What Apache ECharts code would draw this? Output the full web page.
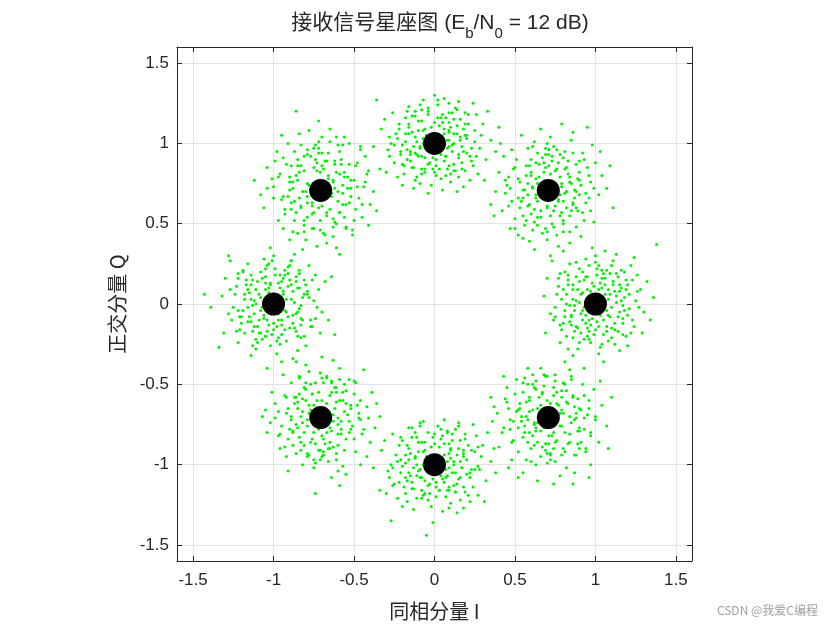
<!DOCTYPE html>
<html>
<head>
<meta charset="utf-8">
<title>接收信号星座图</title>
<script src="https://cdn.jsdelivr.net/npm/echarts@6.0.0/dist/echarts.min.js"></script>
<style>
  html, body { margin: 0; padding: 0; background: #fff; }
  #main { width: 840px; height: 630px; }
</style>
</head>
<body>
<div id="main"></div>
<script>
// 理想星座点 (8PSK)
var idealI = [1, 0.7071, 0, -0.7071, -1, -0.7071, 0, 0.7071];
var idealQ = [0, 0.7071, 1, 0.7071, 0, -0.7071, -1, -0.7071];

// 刻度
var tickValues = [-1.5, -1, -0.5, 0, 0.5, 1, 1.5];

// 接收点 [I, Q]，按星座点分组
var rx0 = [[1.08,0.03],[0.92,-0.04],[1.05,-0.10],[0.95,0.09],[1.12,0.08],[0.88,0.02],[1.03,0.13],[0.97,-0.13],[1.15,-0.05],[0.85,-0.08],
[1.10,-0.15],[0.90,0.14],[1.18,0.04],[0.82,0.06],[1.01,0.18],[0.99,-0.19],[1.20,0.12],[0.80,-0.12],[1.07,0.21],[0.93,-0.22],
[1.23,-0.10],[0.77,0.11],[1.14,0.17],[0.87,-0.17],[1.25,0.02],[0.75,-0.02],[1.04,-0.25],[0.96,0.24],[1.19,-0.20],[0.81,0.20],
[1.28,0.09],[0.72,-0.06],[1.11,0.27],[0.89,-0.28],[1.30,-0.05],[0.70,0.16],[1.00,0.30],[1.02,-0.31],[1.22,0.24],[0.78,-0.24],
[1.06,0.06],[0.94,-0.07],[1.09,-0.08],[0.91,0.06],[1.13,0.01],[0.87,-0.01],[1.04,0.10],[0.96,-0.10],[1.16,0.10],[0.84,-0.11],
[1.12,-0.12],[0.86,0.12],[1.17,-0.09],[0.83,0.15],[1.06,0.16],[1.00,-0.16],[1.21,0.06],[0.79,-0.16],[1.09,0.19],[0.95,-0.20],
[1.24,-0.14],[0.76,0.06],[1.16,0.21],[0.90,-0.24],[1.27,-0.02],[0.74,-0.10],[1.08,-0.23],[0.92,0.20],[1.20,-0.26],[0.84,0.25],
[1.32,0.14],[0.73,0.27],[1.13,0.31],[0.86,-0.32],[1.34,-0.10],[0.69,-0.18],[0.98,0.35],[1.05,-0.36],[1.38,0.37],[0.72,0.30],
[1.03,0.04],[0.97,0.05],[1.07,-0.04],[0.93,-0.02],[1.11,0.12],[0.89,0.09],[1.02,-0.14],[0.98,0.13],[1.14,-0.17],[0.88,-0.14],
[1.19,0.15],[0.81,-0.04],[1.10,0.24],[0.91,-0.18],[1.26,0.18],[0.78,0.19],[1.15,-0.29],[0.94,0.28],[1.29,-0.18],[0.68,0.05],
[1.36,0.04],[0.80,0.33],[1.24,0.29],[0.83,-0.28],[1.06,0.33],[1.01,0.22],[1.17,-0.01],[0.86,0.03],[1.05,-0.19],[0.95,0.17],
[1.09,0.06],[0.91,-0.06],[1.08,-0.07],[0.92,0.07],[1.10,-0.02],[0.90,0.01],[1.02,0.09],[0.98,-0.09],[1.13,0.05],[0.87,-0.04],
[1.06,0.12],[0.94,-0.12],[1.14,-0.08],[0.86,0.09],[1.01,-0.11],[0.99,0.11],[1.16,0.02],[0.84,-0.01],[1.11,0.14],[0.89,-0.15],
[1.07,-0.14],[0.93,0.15],[1.18,-0.04],[0.82,0.00],[1.04,0.16],[0.96,-0.17],[1.15,0.12],[0.85,-0.13],[1.12,-0.16],[0.88,0.17],
[1.19,0.09],[0.81,-0.08],[1.03,-0.07],[0.97,0.08],[1.08,0.09],[0.92,-0.10],[1.17,-0.12],[0.83,0.12],[1.05,0.19],[0.95,-0.15],
[1.13,0.19],[0.86,-0.21],[1.21,-0.03],[0.79,0.03],[1.02,0.24],[0.97,-0.24],[1.17,-0.19],[0.83,0.18],[1.23,0.15],[0.78,-0.13],
[1.10,-0.21],[0.90,0.22],[1.15,0.08],[0.85,-0.07],[1.07,-0.17],[0.94,0.17],[1.20,-0.07],[0.80,0.09],[1.04,0.21],[0.96,-0.22],
[1.26,0.08],[0.75,-0.08],[1.18,0.20],[0.82,-0.20],[1.12,-0.25],[0.88,0.26],[1.22,-0.18],[0.77,0.16],[1.00,0.26],[1.03,-0.27]];

var rx45 = [[0.79,0.73],[0.63,0.68],[0.75,0.61],[0.68,0.82],[0.84,0.79],[0.58,0.75],[0.80,0.64],[0.71,0.86],[0.62,0.59],[0.88,0.70],
[0.55,0.66],[0.77,0.88],[0.66,0.54],[0.90,0.82],[0.52,0.78],[0.84,0.55],[0.60,0.90],[0.73,0.50],[0.94,0.63],[0.48,0.64],
[0.81,0.95],[0.57,0.52],[0.97,0.76],[0.45,0.74],[0.69,0.97],[0.88,0.48],[0.51,0.90],[0.76,0.43],[1.00,0.88],[0.42,0.58],
[0.62,1.01],[0.93,0.52],[0.47,0.47],[1.02,0.68],[0.85,1.02],[0.55,0.41],[0.40,0.82],[0.98,0.99],[0.66,1.09],[0.70,0.40],
[0.74,0.68],[0.67,0.75],[0.78,0.79],[0.64,0.64],[0.82,0.70],[0.70,0.60],[0.60,0.82],[0.86,0.62],[0.73,0.92],[0.56,0.71],
[0.79,0.57],[0.65,0.87],[0.91,0.74],[0.53,0.60],[0.76,0.96],[0.69,0.47],[0.95,0.85],[0.49,0.84],[0.83,0.89],[0.61,0.46],
[0.89,0.58],[0.58,0.97],[1.04,0.80],[0.44,0.69],[0.72,1.04],[0.80,0.45],[0.92,0.94],[0.50,0.53],[0.64,0.94],[0.97,0.58],
[0.86,1.07],[0.43,0.92],[1.07,0.72],[0.59,0.39],[0.38,0.70],[0.77,0.36],[1.03,0.95],[0.54,1.05],[0.91,0.42],[0.37,0.55],
[0.73,0.76],[0.68,0.66],[0.77,0.65],[0.63,0.78],[0.85,0.75],[0.66,0.70],[0.81,0.84],[0.59,0.62],[0.72,0.55],[0.87,0.66],
[0.57,0.86],[0.94,0.69],[0.70,1.00],[0.46,0.79],[0.99,0.51],[0.52,0.43],[1.09,0.86],[0.79,1.12],[0.35,0.62],[0.62,0.34],
[0.95,1.10],[0.41,1.00],[1.11,0.60],[0.84,0.38],[0.48,0.96],[0.75,0.83],[0.61,0.72],[0.80,0.52],[0.67,0.91],[0.90,0.89],
[0.79,0.75],[0.63,0.66],[0.77,0.64],[0.65,0.79],[0.81,0.69],[0.61,0.73],[0.72,0.81],[0.70,0.61],[0.84,0.76],[0.58,0.68],
[0.76,0.84],[0.66,0.58],[0.86,0.63],[0.57,0.80],[0.69,0.85],[0.74,0.58],[0.87,0.71],[0.55,0.71],[0.82,0.85],[0.60,0.56],
[0.68,0.88],[0.78,0.55],[0.89,0.78],[0.54,0.64],[0.73,0.89],[0.64,0.54],[0.85,0.58],[0.59,0.86],[0.90,0.68],[0.53,0.76],
[0.80,0.91],[0.62,0.51],[0.75,0.71],[0.67,0.72],[0.78,0.68],[0.64,0.75],[0.83,0.81],[0.58,0.61],[0.71,0.93],[0.88,0.60],
[0.90,0.77],[0.52,0.66],[0.78,0.93],[0.64,0.49],[0.96,0.66],[0.47,0.72],[0.69,0.93],[0.74,0.48],[0.88,0.87],[0.55,0.55],
[0.82,0.60],[0.60,0.80],[0.92,0.57],[0.50,0.85],[0.63,0.88],[0.80,0.50],[0.96,0.80],[0.46,0.61],[0.74,0.98],[0.67,0.44],
[0.86,0.94],[0.56,0.49],[0.99,0.72],[0.44,0.77],[0.61,0.98],[0.84,0.45],[0.93,0.90],[0.50,0.47],[0.71,0.96],[0.70,0.45]];

var rx90 = [[0.08,1.02],[-0.09,0.97],[0.11,0.95],[-0.06,1.09],[0.03,1.11],[-0.12,1.04],[0.14,1.06],[0.06,0.89],[-0.03,0.88],[-0.15,0.93],
[0.17,0.98],[0.09,1.13],[-0.10,1.14],[0.01,0.86],[-0.18,1.01],[0.20,1.03],[0.12,0.87],[-0.08,0.84],[0.05,1.18],[-0.04,1.20],
[0.22,0.92],[-0.21,0.95],[0.16,1.15],[-0.14,1.17],[0.25,1.08],[-0.24,1.06],[0.07,0.80],[-0.11,0.79],[0.19,0.83],[-0.19,0.86],
[0.02,1.24],[0.13,1.22],[-0.16,1.23],[0.28,0.97],[-0.27,1.00],[0.10,0.76],[-0.02,0.74],[0.24,0.86],[-0.25,0.88],[0.30,1.12],
[-0.30,0.82],[0.06,1.28],[-0.07,1.27],[0.32,0.90],[-0.33,1.09],[0.18,0.73],[-0.20,0.74],[0.15,1.26],[-0.36,1.27],[0.35,1.02],
[0.04,0.93],[-0.05,1.05],[0.09,1.07],[-0.08,0.92],[0.12,1.00],[-0.13,0.98],[0.07,0.92],[0.00,1.13],[-0.01,0.91],[0.10,1.10],
[-0.10,1.08],[0.15,0.91],[-0.16,1.10],[0.18,1.09],[-0.17,0.90],[0.13,0.83],[-0.06,0.82],[0.04,1.16],[-0.12,1.20],[0.21,1.12],
[-0.22,1.12],[0.23,0.97],[-0.20,0.99],[0.08,0.84],[0.01,0.80],[-0.14,0.85],[0.26,1.18],[-0.28,0.92],[0.11,1.19],[-0.09,1.24],
[0.27,0.81],[-0.23,0.79],[0.05,0.71],[-0.31,1.15],[0.33,1.20],[0.22,0.77],[-0.04,0.69],[0.38,0.95],[-0.38,0.98],[0.14,0.70],
[0.02,0.97],[-0.03,1.03],[0.06,1.06],[-0.07,1.00],[0.09,0.98],[-0.11,0.93],[0.16,1.02],[-0.18,1.06],[0.03,0.84],[0.19,1.19],
[-0.26,1.19],[0.29,1.05],[-0.29,0.96],[0.24,1.25],[0.40,1.10],[-0.13,0.72],[0.31,0.77],[-0.34,0.84],[0.00,1.30],[0.20,0.94],
[0.06,1.09],[-0.06,0.91],[-0.07,1.08],[0.07,0.92],[-0.02,1.10],[0.01,0.90],[0.09,1.02],[-0.09,0.98],[0.05,1.13],[-0.04,0.87],
[0.12,1.06],[-0.12,0.94],[-0.08,1.14],[0.09,0.86],[-0.11,1.01],[0.11,0.99],[0.02,1.16],[-0.01,0.84],[0.14,1.11],[-0.15,0.89],
[-0.14,1.07],[0.15,0.93],[-0.04,1.18],[0.00,0.82],[0.16,1.04],[-0.17,0.96],[0.12,1.15],[-0.13,0.85],[-0.16,1.12],[0.17,0.88],
[0.09,1.19],[-0.08,0.81],[-0.07,1.03],[0.08,0.97],[0.09,1.08],[-0.10,0.92],[-0.12,1.17],[0.12,0.83],[0.19,1.05],[-0.15,0.95],
[0.19,1.12],[-0.20,0.87],[-0.04,1.22],[0.04,0.78],[0.25,1.01],[-0.23,1.03],[-0.18,1.16],[0.17,0.84],[0.14,1.21],[-0.12,0.77],
[-0.22,1.09],[0.23,0.89],[0.07,1.16],[-0.06,0.84],[-0.16,1.06],[0.18,0.95],[-0.08,1.21],[0.10,0.81],[0.20,1.05],[-0.21,0.93],
[0.09,1.25],[-0.09,0.75],[0.21,1.18],[-0.19,0.81],[-0.25,0.99],[0.26,0.92],[-0.17,1.20],[0.15,0.79],[0.02,1.27],[-0.28,1.04]];

var rx135 = [[-0.64,0.69],[-0.79,0.75],[-0.70,0.61],[-0.73,0.83],[-0.57,0.74],[-0.84,0.66],[-0.61,0.82],[-0.76,0.56],[-0.86,0.80],[-0.55,0.62],
[-0.68,0.89],[-0.81,0.52],[-0.50,0.77],[-0.90,0.71],[-0.62,0.51],[-0.77,0.92],[-0.53,0.87],[-0.93,0.59],[-0.71,0.46],[-0.47,0.66],
[-0.85,0.90],[-0.59,0.95],[-0.96,0.81],[-0.45,0.54],[-0.74,0.99],[-0.88,0.45],[-0.51,0.43],[-0.65,1.01],[-1.00,0.66],[-0.42,0.81],
[-0.80,0.40],[-0.56,1.04],[-0.98,0.95],[-0.40,0.62],[-0.91,1.00],[-0.67,0.38],[-1.04,0.72],[-0.46,0.96],[-0.84,1.06],[-0.61,0.35],
[-0.69,0.73],[-0.75,0.66],[-0.66,0.78],[-0.77,0.71],[-0.60,0.70],[-0.81,0.83],[-0.65,0.59],[-0.73,0.88],[-0.83,0.60],[-0.56,0.82],
[-0.71,0.52],[-0.88,0.76],[-0.52,0.72],[-0.79,0.96],[-0.59,0.57],[-0.94,0.67],[-0.66,0.94],[-0.49,0.59],[-0.87,0.52],[-0.58,0.90],
[-0.76,0.47],[-0.92,0.87],[-0.44,0.73],[-0.97,0.52],[-0.70,1.04],[-0.55,0.47],[-0.83,0.99],[-0.48,0.88],[-1.01,0.78],[-0.63,0.42],
[-0.90,0.40],[-0.41,0.49],[-0.78,1.08],[-1.06,0.60],[-0.53,1.00],[-0.38,0.70],[-0.95,1.05],[-0.73,0.36],[-1.12,0.77],[-0.86,1.20],
[-0.72,1.14],[-0.72,1.01],[-0.61,1.04],[-0.46,0.98],[-0.41,0.83],[-1.04,0.85],[-0.68,0.68],[-0.74,0.76],[-0.63,0.77],[-0.79,0.63],
[-0.60,0.64],[-0.82,0.70],[-0.69,0.84],[-0.67,0.55],[-0.85,0.86],[-0.54,0.79],[-0.76,0.61],[-0.62,0.87],[-0.89,0.63],[-0.50,0.52],
[-0.81,0.45],[-0.57,0.99],[-0.99,0.89],[-0.43,0.92],[-0.94,0.47],[-0.65,1.09],[-1.08,0.68],[-0.36,0.58],[-0.59,0.31],[-0.82,0.34],
[-0.78,0.74],[-0.64,0.67],[-0.76,0.63],[-0.66,0.80],[-0.80,0.70],[-0.62,0.72],[-0.71,0.82],[-0.72,0.60],[-0.85,0.77],[-0.57,0.69],
[-0.75,0.85],[-0.67,0.57],[-0.87,0.64],[-0.56,0.79],[-0.70,0.86],[-0.75,0.57],[-0.88,0.72],[-0.54,0.72],[-0.83,0.86],[-0.59,0.57],
[-0.67,0.89],[-0.79,0.54],[-0.90,0.79],[-0.53,0.63],[-0.74,0.90],[-0.63,0.53],[-0.86,0.57],[-0.58,0.87],[-0.91,0.67],[-0.52,0.77],
[-0.81,0.92],[-0.61,0.50],[-0.76,0.70],[-0.66,0.73],[-0.79,0.67],[-0.63,0.76],[-0.84,0.82],[-0.57,0.62],[-0.72,0.94],[-0.89,0.59],
[-0.90,0.76],[-0.52,0.67],[-0.79,0.93],[-0.63,0.48],[-0.95,0.65],[-0.48,0.73],[-0.70,0.94],[-0.75,0.47],[-0.89,0.86],[-0.56,0.54],
[-0.83,0.61],[-0.59,0.81],[-0.93,0.56],[-0.49,0.86],[-0.62,0.89],[-0.81,0.49],[-0.97,0.79],[-0.45,0.62],[-0.75,0.97],[-0.68,0.43],
[-0.87,0.95],[-0.55,0.48],[-1.00,0.73],[-0.43,0.76],[-0.60,0.99],[-0.85,0.44],[-0.94,0.91],[-0.51,0.46],[-0.72,0.97],[-0.69,0.44]];

var rx180 = [[-0.92,0.03],[-1.08,-0.04],[-0.95,-0.10],[-1.05,0.09],[-0.88,0.08],[-1.12,0.02],[-0.97,0.13],[-1.03,-0.13],[-0.85,-0.05],[-1.15,-0.08],
[-0.90,-0.15],[-1.10,0.14],[-0.82,0.04],[-1.18,0.06],[-0.99,0.18],[-1.01,-0.19],[-0.80,0.12],[-1.20,-0.12],[-0.93,0.21],[-1.07,-0.22],
[-0.77,-0.10],[-1.23,0.11],[-0.86,0.17],[-1.13,-0.17],[-0.75,0.02],[-1.25,-0.02],[-0.96,-0.25],[-1.04,0.24],[-0.81,-0.20],[-1.19,0.20],
[-0.72,0.09],[-1.28,-0.06],[-0.89,0.27],[-1.11,-0.28],[-0.70,-0.05],[-1.30,0.16],[-1.00,0.30],[-0.98,-0.31],[-0.78,0.24],[-1.22,-0.24],
[-0.94,0.06],[-1.06,-0.07],[-0.91,-0.08],[-1.09,0.06],[-0.87,0.01],[-1.13,-0.01],[-0.96,0.10],[-1.04,-0.10],[-0.84,0.10],[-1.16,-0.11],
[-0.88,-0.12],[-1.14,0.12],[-0.83,-0.09],[-1.17,0.15],[-0.94,0.16],[-1.00,-0.16],[-0.79,0.06],[-1.21,-0.16],[-0.91,0.19],[-1.05,-0.20],
[-0.76,-0.14],[-1.24,0.06],[-0.84,0.21],[-1.10,-0.24],[-0.73,-0.02],[-1.26,-0.10],[-0.92,-0.23],[-1.08,0.20],[-0.80,-0.26],[-1.16,0.25],
[-0.68,0.14],[-1.27,0.27],[-0.87,0.31],[-1.14,-0.32],[-0.66,-0.10],[-1.31,-0.18],[-1.02,0.35],[-0.95,-0.36],[-0.64,0.17],[-1.28,0.30],
[-0.97,0.04],[-1.03,0.05],[-0.93,-0.04],[-1.07,-0.02],[-0.89,0.12],[-1.11,0.09],[-0.98,-0.14],[-1.02,0.13],[-0.86,-0.17],[-1.12,-0.14],
[-0.81,0.15],[-1.19,-0.04],[-0.90,0.24],[-1.09,-0.18],[-0.74,0.18],[-1.22,0.19],[-0.85,-0.29],[-1.06,0.28],[-0.71,-0.18],[-1.32,0.05],
[-1.43,0.06],[-1.39,-0.02],[-1.34,-0.27],[-0.62,-0.19],[-1.04,-0.40],[-0.99,0.22],[-0.83,-0.01],[-1.14,0.03],[-0.95,-0.19],[-1.05,0.17],
[-1.08,0.04],[-0.92,-0.05],[-1.06,-0.09],[-0.94,0.08],[-1.11,0.00],[-0.89,0.03],[-1.03,0.10],[-0.97,-0.10],[-1.12,-0.06],[-0.88,-0.07],
[-1.05,0.13],[-0.95,-0.13],[-1.15,0.07],[-0.85,0.10],[-1.00,-0.12],[-1.02,0.12],[-1.16,-0.02],[-0.84,-0.03],[-1.10,-0.14],[-0.90,0.15],
[-1.07,0.16],[-0.93,-0.16],[-1.18,0.03],[-0.82,-0.10],[-1.04,-0.17],[-0.96,0.18],[-1.14,-0.11],[-0.86,0.14],[-1.13,0.15],[-0.87,-0.15],
[-1.20,-0.08],[-0.81,0.06],[-1.03,0.07],[-0.97,-0.06],[-1.09,-0.10],[-0.91,0.11],[-1.17,0.12],[-0.83,-0.13],[-1.05,-0.20],[-0.95,0.14],
[-1.14,0.18],[-0.85,-0.20],[-1.22,-0.04],[-0.78,0.04],[-1.03,0.25],[-0.98,-0.23],[-1.18,-0.18],[-0.84,0.19],[-1.22,0.16],[-0.77,-0.14],
[-1.11,-0.22],[-0.91,0.23],[-1.16,0.09],[-0.86,-0.06],[-1.08,-0.18],[-0.93,0.18],[-1.21,-0.08],[-0.79,0.08],[-1.05,0.22],[-0.97,-0.21],
[-1.27,0.09],[-0.74,-0.09],[-1.19,0.21],[-0.83,-0.21],[-1.13,-0.26],[-0.89,0.27],[-1.23,-0.17],[-0.76,0.15],[-1.01,0.27],[-1.02,-0.26]];

var rx225 = [[-0.63,-0.73],[-0.78,-0.68],[-0.67,-0.62],[-0.75,-0.80],[-0.58,-0.78],[-0.82,-0.74],[-0.62,-0.65],[-0.72,-0.55],[-0.80,-0.60],[-0.54,-0.69],
[-0.85,-0.65],[-0.65,-0.86],[-0.74,-0.87],[-0.51,-0.76],[-0.88,-0.79],[-0.57,-0.55],[-0.81,-0.52],[-0.69,-0.49],[-0.48,-0.63],[-0.92,-0.68],
[-0.61,-0.93],[-0.83,-0.91],[-0.45,-0.81],[-0.95,-0.76],[-0.71,-0.43],[-0.53,-0.47],[-0.89,-0.49],[-0.66,-0.98],[-0.41,-0.71],[-0.99,-0.62],
[-0.78,-0.42],[-0.49,-0.92],[-0.96,-0.90],[-0.39,-0.55],[-0.57,-1.01],[-0.86,-0.36],[-1.02,-0.74],[-0.44,-0.41],[-0.75,-1.02],[-0.63,-0.35],
[-0.68,-0.70],[-0.74,-0.73],[-0.64,-0.79],[-0.78,-0.63],[-0.60,-0.71],[-0.76,-0.84],[-0.83,-0.70],[-0.55,-0.84],[-0.70,-0.60],[-0.86,-0.58],
[-0.61,-0.52],[-0.79,-0.95],[-0.50,-0.56],[-0.91,-0.84],[-0.67,-0.46],[-0.75,-0.97],[-0.46,-0.72],[-0.93,-0.57],[-0.56,-0.91],[-0.84,-0.45],
[-0.52,-0.63],[-0.89,-0.72],[-0.37,-0.77],[-0.97,-0.82],[-0.69,-0.94],[-0.59,-0.40],[-0.49,-0.49],[-0.94,-0.44],[-0.77,-0.50],[-0.42,-0.64],
[-0.55,-1.06],[-1.01,-0.55],[-0.34,-0.70],[-0.82,-1.00],[-1.04,-0.80],[-0.64,-1.08],[-0.42,-0.95],[-0.88,-0.34],[-0.60,-1.04],[-1.05,-0.66],
[-0.66,-0.75],[-0.73,-0.67],[-0.72,-0.78],[-0.61,-0.61],[-0.81,-0.80],[-0.58,-0.73],[-0.69,-0.84],[-0.85,-0.77],[-0.64,-0.55],[-0.76,-0.56],
[-0.87,-0.62],[-0.53,-0.80],[-0.71,-0.91],[-0.47,-0.68],[-0.92,-0.95],[-0.59,-0.47],[-0.80,-0.38],[-0.91,-1.04],[-0.36,-0.62],[-0.59,-1.13],
[-0.74,-1.18],[-0.40,-0.86],[-1.07,-0.70],[-0.70,-0.33],[-0.46,-1.00],[-0.83,-0.86],[-0.68,-0.65],[-0.57,-0.60],[-0.79,-0.76],[-0.65,-0.90],
[-0.79,-0.72],[-0.63,-0.69],[-0.75,-0.63],[-0.67,-0.80],[-0.82,-0.67],[-0.60,-0.75],[-0.70,-0.82],[-0.73,-0.60],[-0.86,-0.75],[-0.56,-0.67],
[-0.77,-0.86],[-0.65,-0.57],[-0.85,-0.61],[-0.58,-0.81],[-0.68,-0.87],[-0.76,-0.56],[-0.89,-0.70],[-0.53,-0.73],[-0.81,-0.88],[-0.61,-0.55],
[-0.66,-0.90],[-0.80,-0.53],[-0.88,-0.80],[-0.55,-0.62],[-0.72,-0.91],[-0.62,-0.52],[-0.84,-0.56],[-0.60,-0.88],[-0.91,-0.65],[-0.52,-0.78],
[-0.79,-0.93],[-0.64,-0.49],[-0.74,-0.70],[-0.68,-0.74],[-0.77,-0.66],[-0.65,-0.77],[-0.84,-0.83],[-0.59,-0.60],[-0.70,-0.95],[-0.87,-0.58],
[-0.90,-0.78],[-0.52,-0.65],[-0.78,-0.94],[-0.64,-0.48],[-0.97,-0.67],[-0.47,-0.71],[-0.69,-0.92],[-0.74,-0.49],[-0.88,-0.88],[-0.55,-0.54],
[-0.82,-0.59],[-0.60,-0.81],[-0.92,-0.58],[-0.50,-0.84],[-0.63,-0.89],[-0.80,-0.49],[-0.96,-0.81],[-0.46,-0.60],[-0.74,-0.99],[-0.67,-0.45],
[-0.86,-0.93],[-0.56,-0.50],[-0.99,-0.71],[-0.44,-0.78],[-0.61,-0.97],[-0.84,-0.46],[-0.93,-0.89],[-0.50,-0.48],[-0.71,-0.97],[-0.70,-0.46]];

var rx270 = [[0.08,-0.98],[-0.09,-1.03],[0.11,-1.05],[-0.06,-0.91],[0.03,-0.89],[-0.12,-0.96],[0.14,-0.94],[0.06,-1.11],[-0.03,-1.12],[-0.15,-1.07],
[0.17,-1.02],[0.09,-0.87],[-0.10,-0.86],[0.01,-1.14],[-0.18,-0.99],[0.20,-0.97],[0.12,-1.13],[-0.08,-1.16],[0.05,-0.82],[-0.04,-0.80],
[0.22,-1.08],[-0.21,-1.05],[0.16,-0.85],[-0.14,-0.83],[0.25,-0.92],[-0.24,-0.94],[0.07,-1.20],[-0.11,-1.21],[0.19,-1.17],[-0.19,-1.14],
[0.02,-0.76],[0.13,-0.78],[-0.16,-0.77],[0.28,-1.03],[-0.27,-1.00],[0.10,-1.24],[-0.02,-1.26],[0.24,-1.14],[-0.25,-1.12],[0.30,-0.88],
[-0.30,-1.18],[0.06,-0.72],[-0.07,-0.73],[0.32,-1.10],[-0.33,-0.91],[0.18,-1.27],[-0.20,-1.26],[0.15,-0.74],[-0.27,-1.35],[0.35,-0.98],
[0.04,-1.07],[-0.05,-0.95],[0.09,-0.93],[-0.08,-1.08],[0.12,-1.00],[-0.13,-1.02],[0.07,-1.08],[0.00,-0.87],[-0.01,-1.09],[0.10,-0.90],
[-0.10,-0.92],[0.15,-1.09],[-0.16,-0.90],[0.18,-0.91],[-0.17,-1.10],[0.13,-1.17],[-0.06,-1.18],[0.04,-0.84],[-0.12,-0.80],[0.21,-0.88],
[-0.22,-0.88],[0.23,-1.03],[-0.20,-1.01],[0.08,-1.16],[0.01,-1.20],[-0.14,-1.15],[0.26,-0.82],[-0.28,-1.08],[0.11,-0.81],[-0.09,-0.76],
[0.27,-1.19],[-0.23,-1.21],[0.05,-1.29],[-0.31,-0.85],[0.33,-0.80],[0.22,-1.23],[-0.05,-1.44],[0.38,-1.05],[-0.38,-1.02],[0.14,-1.30],
[0.02,-1.03],[-0.03,-0.97],[0.06,-0.94],[-0.07,-1.00],[0.09,-1.02],[-0.11,-1.07],[0.16,-0.98],[-0.18,-0.94],[0.03,-1.16],[0.19,-0.81],
[-0.26,-0.81],[0.29,-0.95],[-0.29,-1.04],[0.24,-0.75],[0.37,-0.90],[-0.13,-1.28],[0.31,-1.23],[-0.34,-1.16],[-0.01,-1.36],[0.20,-1.06],
[0.05,-1.09],[-0.07,-0.92],[0.08,-1.07],[-0.06,-1.10],[0.01,-1.11],[-0.02,-0.89],[0.10,-0.96],[-0.10,-1.04],[0.06,-0.87],[-0.04,-1.13],
[0.13,-1.05],[-0.12,-0.95],[-0.08,-0.86],[0.09,-1.14],[-0.11,-1.00],[0.12,-0.98],[0.03,-1.16],[-0.01,-0.83],[0.15,-0.90],[-0.14,-1.11],
[-0.15,-0.93],[0.16,-1.08],[-0.03,-1.18],[0.00,-0.81],[0.17,-1.02],[-0.16,-1.05],[0.11,-0.85],[-0.13,-1.15],[-0.17,-0.88],[0.14,-1.12],
[0.08,-0.80],[-0.07,-1.19],[-0.06,-0.97],[0.07,-1.03],[0.10,-0.91],[-0.09,-1.08],[-0.11,-0.83],[0.13,-1.17],[0.18,-0.95],[-0.16,-0.97],
[0.18,-1.14],[-0.20,-0.85],[-0.04,-1.22],[0.04,-0.78],[0.25,-1.03],[-0.23,-0.98],[-0.18,-1.18],[0.19,-0.84],[0.16,-1.22],[-0.14,-0.77],
[-0.22,-1.11],[0.23,-0.91],[0.09,-1.16],[-0.06,-0.86],[-0.18,-1.08],[0.18,-0.93],[-0.08,-1.21],[0.08,-0.79],[0.22,-1.05],[-0.21,-0.97],
[0.09,-1.27],[-0.09,-0.74],[0.21,-1.19],[-0.21,-0.83],[-0.26,-1.13],[0.27,-0.89],[-0.17,-1.23],[0.15,-0.76],[0.27,-1.01],[-0.26,-1.02]];

var rx315 = [[0.78,-0.68],[0.64,-0.74],[0.74,-0.80],[0.66,-0.63],[0.83,-0.62],[0.59,-0.67],[0.79,-0.76],[0.69,-0.87],[0.61,-0.82],[0.87,-0.72],
[0.56,-0.76],[0.76,-0.55],[0.67,-0.55],[0.90,-0.65],[0.53,-0.62],[0.84,-0.86],[0.60,-0.90],[0.72,-0.93],[0.93,-0.78],[0.49,-0.73],
[0.80,-0.49],[0.58,-0.50],[0.96,-0.60],[0.46,-0.65],[0.70,-0.99],[0.88,-0.94],[0.52,-0.92],[0.75,-0.44],[1.00,-0.70],[0.42,-0.80],
[0.63,-1.00],[0.92,-0.50],[0.45,-0.52],[1.02,-0.86],[0.84,-0.41],[0.55,-1.05],[0.39,-0.68],[0.97,-1.00],[0.66,-0.40],[0.78,-1.07],
[0.73,-0.72],[0.67,-0.69],[0.77,-0.63],[0.63,-0.79],[0.81,-0.80],[0.65,-0.58],[0.58,-0.72],[0.86,-0.57],[0.71,-0.82],[0.55,-0.83],
[0.80,-0.90],[0.62,-0.52],[0.91,-0.86],[0.50,-0.56],[0.74,-0.52],[0.66,-0.95],[0.95,-0.69],[0.48,-0.86],[0.85,-0.47],[0.57,-0.97],
[0.89,-0.79],[0.51,-0.67],[1.04,-0.63],[0.44,-0.59],[0.70,-0.45],[0.82,-1.02],[0.94,-0.92],[0.48,-0.97],[0.61,-0.44],[0.99,-0.53],
[0.87,-1.05],[0.40,-0.89],[1.07,-0.76],[0.58,-0.40],[0.36,-0.73],[0.74,-1.12],[1.03,-0.48],[0.52,-1.08],[0.93,-0.40],[0.35,-0.58],
[0.75,-0.75],[0.68,-0.77],[0.77,-0.69],[0.61,-0.66],[0.84,-0.70],[0.64,-0.86],[0.79,-0.58],[0.59,-0.60],[0.72,-0.62],[0.88,-0.68],
[0.54,-0.70],[0.93,-0.71],[0.69,-0.91],[0.47,-0.78],[0.97,-0.82],[0.56,-0.46],[1.08,-0.90],[0.81,-0.36],[0.37,-0.64],[0.64,-1.10],
[0.96,-1.08],[0.43,-0.45],[1.10,-0.58],[0.86,-1.12],[0.46,-1.02],[0.76,-0.85],[0.62,-0.75],[0.82,-0.54],[0.68,-0.51],[0.90,-0.90],
[0.78,-0.76],[0.64,-0.65],[0.76,-0.62],[0.66,-0.79],[0.80,-0.68],[0.62,-0.74],[0.73,-0.82],[0.70,-0.60],[0.85,-0.74],[0.57,-0.70],
[0.75,-0.86],[0.67,-0.56],[0.87,-0.64],[0.56,-0.80],[0.71,-0.87],[0.74,-0.57],[0.88,-0.71],[0.54,-0.73],[0.83,-0.87],[0.59,-0.58],
[0.67,-0.89],[0.79,-0.54],[0.90,-0.79],[0.53,-0.65],[0.74,-0.90],[0.63,-0.53],[0.86,-0.58],[0.58,-0.86],[0.91,-0.66],[0.52,-0.77],
[0.81,-0.92],[0.61,-0.50],[0.76,-0.71],[0.66,-0.72],[0.79,-0.66],[0.63,-0.77],[0.84,-0.81],[0.57,-0.61],[0.72,-0.94],[0.89,-0.59],
[0.90,-0.77],[0.52,-0.66],[0.79,-0.94],[0.63,-0.48],[0.96,-0.65],[0.47,-0.72],[0.70,-0.93],[0.75,-0.48],[0.89,-0.87],[0.55,-0.55],
[0.82,-0.61],[0.59,-0.80],[0.93,-0.57],[0.49,-0.85],[0.62,-0.88],[0.81,-0.50],[0.97,-0.80],[0.45,-0.61],[0.75,-0.98],[0.68,-0.44],
[0.87,-0.94],[0.55,-0.49],[1.00,-0.72],[0.43,-0.77],[0.60,-0.98],[0.85,-0.45],[0.94,-0.90],[0.51,-0.47],[0.72,-0.97],[0.69,-0.45]];

var received = [].concat(rx0, rx45, rx90, rx135, rx180, rx225, rx270, rx315);
var ideal = idealI.map(function(v, i){ return [v, idealQ[i]]; });

var axisColor = '#262626';
var gridColor = '#e3e3e3';
var latinFont = 'Liberation Sans, Arial, Noto Sans CJK SC, sans-serif';
var cjkFont = 'Noto Sans CJK SC, Liberation Sans, sans-serif';

function makeAxis(pos, showLabel, name, nameGap){
	return {
		type: 'value',
		position: pos,
		min: -1.6,
		max: 1.6,
		name: name || '',
		nameLocation: 'middle',
		nameGap: nameGap || 0,
		nameTextStyle: { color: axisColor, fontSize: 20, fontFamily: cjkFont },
		axisLine: { show: true, onZero: false, lineStyle: { color: axisColor, width: 1 } },
		axisTick: { show: true, inside: true, length: 5, customValues: tickValues, lineStyle: { color: axisColor } },
		axisLabel: { show: showLabel, customValues: tickValues, color: axisColor, fontSize: 17, fontFamily: latinFont,
			margin: (pos === 'bottom') ? 11 : 8 },
		splitLine: { show: showLabel, lineStyle: { color: gridColor, width: 1 } }
	};
}

var chart = echarts.init(document.getElementById('main'));
var option = {
	backgroundColor: '#ffffff',
	animation: false,
	title: {
		left: 435,
		top: 8,
		textAlign: 'center',
		text: '{m|接收信号星座图 (E}{s|b}{m|/N}{s|0}{m| = 12 dB)}',
		textStyle: {
			fontWeight: 'normal',
			rich: {
				m: { fontSize: 21, lineHeight: 23, verticalAlign: 'top', fontWeight: 'normal', color: axisColor, fontFamily: latinFont },
				s: { fontSize: 15, lineHeight: 16, verticalAlign: 'top', padding: [13, 0, 0, 0], fontWeight: 'normal', color: axisColor, fontFamily: latinFont }
			}
		}
	},
	grid: { left: 177, right: 148, top: 47, bottom: 69 },
	xAxis: [
		makeAxis('bottom', true, '同相分量 I', 40),
		makeAxis('top', false)
	],
	yAxis: [
		makeAxis('left', true, '正交分量 Q', 50),
		makeAxis('right', false)
	],
	graphic: [{
		type: 'text',
		right: 22,
		top: 604,
		style: { text: 'CSDN @我爱C编程', fill: '#a0a0a0', fontSize: 12, fontFamily: cjkFont }
	}],
	series: [
		{
			name: '接收信号',
			type: 'scatter',
			data: received,
			symbol: 'circle',
			symbolSize: 3,
			silent: true,
			itemStyle: { color: '#00f000', opacity: 1 }
		},
		{
			name: '理想星座点',
			type: 'scatter',
			data: ideal,
			symbol: 'circle',
			symbolSize: 23,
			z: 5,
			itemStyle: { color: '#000000', opacity: 1 }
		}
	]
};
chart.setOption(option);
</script>
</body>
</html>
